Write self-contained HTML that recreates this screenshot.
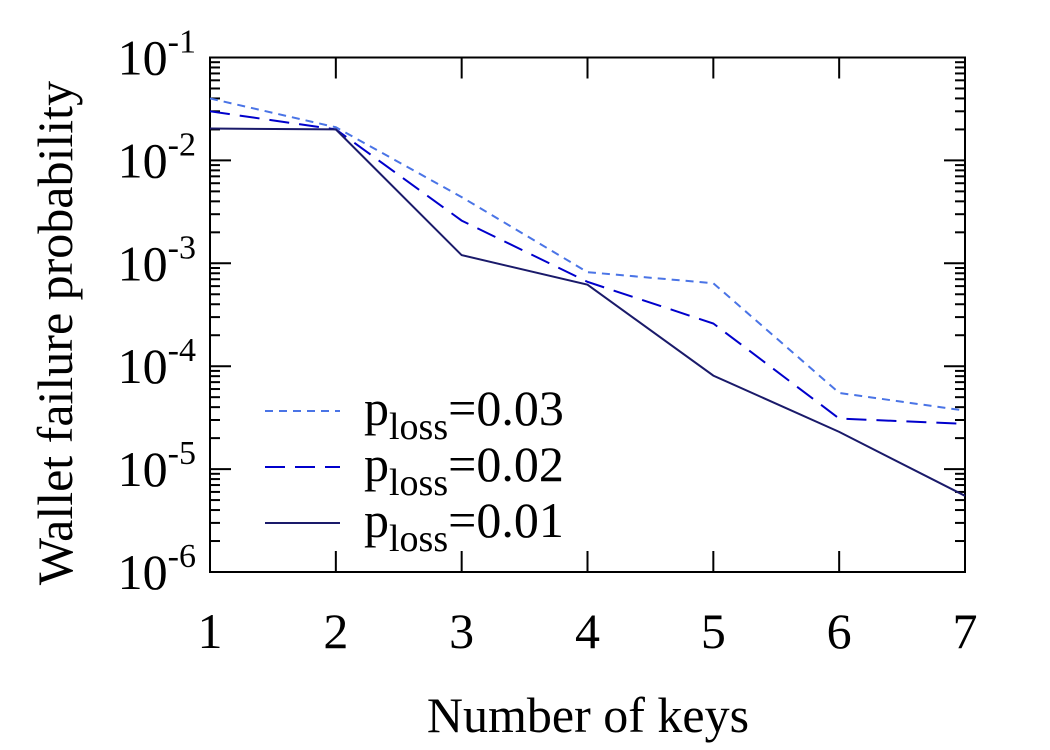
<!DOCTYPE html>
<html><head><meta charset="utf-8"><style>
html,body{margin:0;padding:0;background:#fff;}
svg{display:block;font-family:"Liberation Serif",serif;}
</style></head><body>
<svg id="chart" width="1050" height="750" viewBox="0 0 1050 750" xmlns="http://www.w3.org/2000/svg">
<g id="grid"></g>
<g id="series"></g>
<g id="legend"></g>
<text transform="translate(72,333) rotate(-90)" text-anchor="middle" font-size="50">Wallet failure probability</text>
<text x="588" y="732" text-anchor="middle" font-size="50">Number of keys</text>
</svg>
<script>
const categories = [1,2,3,4,5,6,7];
const seriesNames = ["0.03","0.02","0.01"];
const p003 = [0.040, 0.021, 0.0044, 0.00082, 0.00064, 0.000055, 0.000037];
const p002 = [0.030, 0.020, 0.0026, 0.00066, 0.00026, 0.000031, 0.0000275];
const p001 = [0.0204, 0.020, 0.0012, 0.00062, 0.000081, 0.000023, 0.0000055];
const yExps = [-1,-2,-3,-4,-5,-6];

const L=210,R=965,T=57.5,B=572;
const NS="http://www.w3.org/2000/svg";
function xs(v){return L+(v-1)/(7-1)*(R-L);}
function ys(v){return T+(-1-Math.log10(v))/5*(B-T);}
function mk(tag,attrs,parent){const e=document.createElementNS(NS,tag);for(const k in attrs)e.setAttribute(k,attrs[k]);parent.appendChild(e);return e;}
const g=document.getElementById('grid');
const frame=mk('rect',{x:L,y:T,width:R-L,height:B-T,fill:'none',stroke:'#000','stroke-width':2},g);


yExps.forEach(e=>{
  const y=ys(Math.pow(10,e));
  const t1=mk('line',{x1:L,x2:L+21,y1:y,y2:y,stroke:'#000','stroke-width':2},g);
  
  
  const t2=mk('line',{x1:R,x2:R-21,y1:y,y2:y,stroke:'#000','stroke-width':2},g);
  
  
  const tx=mk('text',{x:196,y:y+17,'text-anchor':'end','font-size':50},g);
  
  
  tx.textContent='10';
  const sup=mk('tspan',{dy:-22,'font-size':34},tx);
  sup.textContent=String(e);
  if(e>-6){
    for(let m=2;m<=9;m++){
      const yy=ys(m*Math.pow(10,e-1));
      const a=mk('line',{x1:L,x2:L+10,y1:yy,y2:yy,stroke:'#000','stroke-width':2},g);
      
      
      const b=mk('line',{x1:R,x2:R-10,y1:yy,y2:yy,stroke:'#000','stroke-width':2},g);
      
      
    }
  }
});
categories.forEach(c=>{
  const x=xs(c);
  const a=mk('line',{x1:x,x2:x,y1:B,y2:B-21,stroke:'#000','stroke-width':2},g);
  
  
  const b=mk('line',{x1:x,x2:x,y1:T,y2:T+21,stroke:'#000','stroke-width':2},g);
  
  
  const t=mk('text',{x:x,y:648,'text-anchor':'middle','font-size':50},g);
  
  
  t.textContent=c;
});
const styles=[{d:p003,c:'#4a74e6',dash:'8,6'},{d:p002,c:'#0000cc',dash:'20,10'},{d:p001,c:'#1a1a6a',dash:''}];
const s=document.getElementById('series'),lg=document.getElementById('legend');
styles.forEach((st,i)=>{
  const pts=st.d.map((v,j)=>xs(categories[j])+','+ys(v)).join(' ');
  const pl=mk('polyline',{points:pts,fill:'none',stroke:st.c,'stroke-width':2},s);
  if(st.dash)pl.setAttribute('stroke-dasharray',st.dash);
  
  
  const ly=411+i*56;
  const ll=mk('line',{x1:265,x2:340,y1:ly,y2:ly,stroke:st.c,'stroke-width':2},lg);
  if(st.dash)ll.setAttribute('stroke-dasharray',st.dash);
  
  
  const t=mk('text',{x:364,y:ly+14,'font-size':50},lg);
  
  
  t.textContent='p';
  const sub=mk('tspan',{dy:14,'font-size':38},t);sub.textContent='loss';
  const rest=mk('tspan',{dy:-14},t);rest.textContent='='+seriesNames[i];
});
</script>
</body></html>
